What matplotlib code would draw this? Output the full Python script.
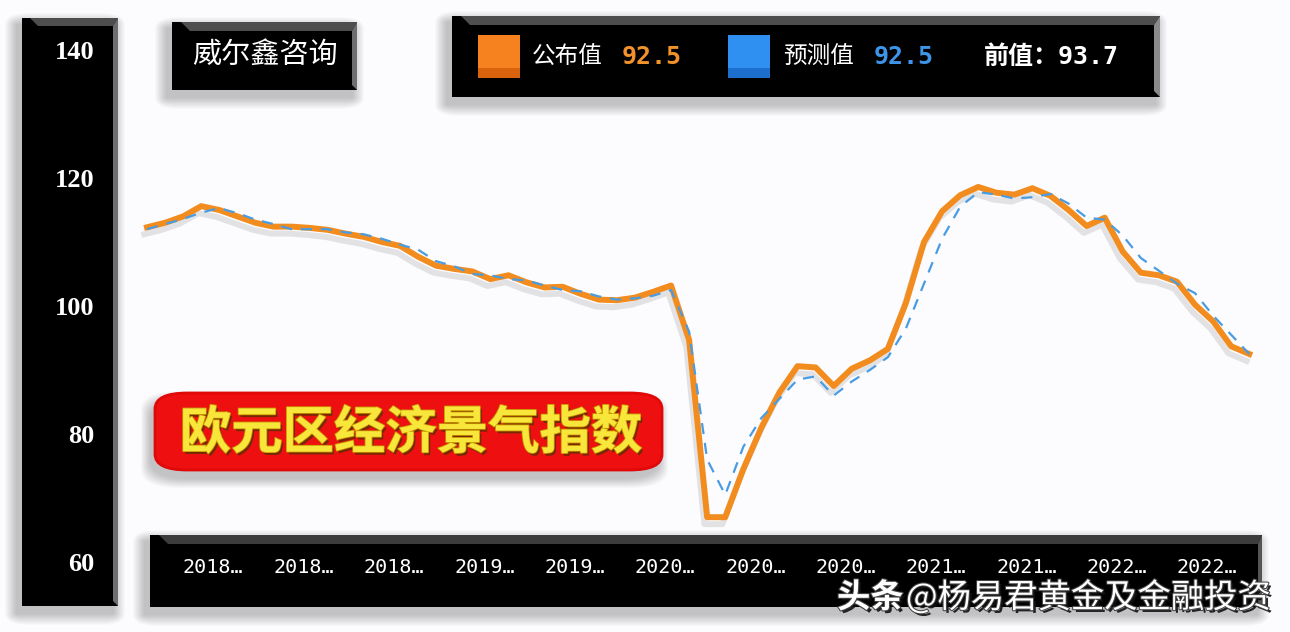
import matplotlib
matplotlib.use('Agg')
import matplotlib.pyplot as plt
import matplotlib.patheffects as pe
from matplotlib.patches import Rectangle, Polygon, FancyBboxPatch
from matplotlib.transforms import offset_copy
import pandas as pd

# ---------------- data ----------------
months = pd.date_range('2017-09-01', periods=62, freq='MS').strftime('%Y年%m月').tolist()

published = [112.3, 113.0, 114.0, 115.6, 115.0, 114.0, 113.0, 112.4, 112.4, 112.2,
             111.9, 111.3, 110.8, 110.0, 109.4, 107.7, 106.3, 105.8, 105.4, 104.2,
             104.8, 103.7, 102.9, 103.0, 101.9, 101.0, 100.9, 101.3, 102.2, 103.2,
             94.7, 67.0, 67.0, 74.5, 81.0, 86.5, 90.6, 90.4, 87.5, 90.2,
             91.5, 93.3, 100.5, 110.0, 114.8, 117.3, 118.6, 117.7, 117.4, 118.4,
             117.2, 115.0, 112.5, 113.8, 108.5, 105.2, 104.8, 103.8, 100.2, 97.6,
             93.7, 92.5]

forecast = [112.0, 112.8, 113.6, 114.6, 115.3, 114.5, 113.5, 112.8, 112.0, 112.0,
            112.0, 111.5, 111.2, 110.5, 109.6, 108.8, 107.0, 106.2, 105.0, 104.8,
            104.2, 104.0, 103.2, 102.5, 102.3, 101.5, 101.0, 101.2, 101.6, 102.5,
            96.0, 76.0, 70.5, 78.0, 82.5, 85.5, 88.5, 89.0, 86.0, 88.2,
            90.0, 92.0, 96.5, 103.5, 110.5, 115.5, 117.8, 117.4, 116.8, 117.0,
            117.5, 116.0, 113.8, 113.5, 111.0, 107.5, 105.5, 103.5, 102.0, 98.5,
            95.5, 92.5]

y_ticks = [60, 80, 100, 120, 140]
tick_step = 5
tick_start = 4
x_tick_idx = list(range(tick_start, len(months), tick_step))
x_tick_labels = [months[i][:4] + '…' for i in x_tick_idx]

title_box = '威尔鑫咨询'
banner = '欧元区经济景气指数'
pub_label, fc_label, prev_label = '公布值', '预测值', '前值：'
pub_value, fc_value, prev_value = '92.5', '92.5', '93.7'
watermark_a, watermark_b = '头条', '@杨易君黄金及金融投资'

# ---------------- figure ----------------
W, H = 1290, 632
fig = plt.figure(figsize=(W / 100, H / 100), dpi=100)
bg = '#fcfcfe'
fig.patch.set_facecolor(bg)
ax = fig.add_axes([0, 0, 1, 1])
ax.set_facecolor('none')
for s in ax.spines.values():
    s.set_visible(False)

px0, dx = 147, 18.07
ax.set_xlim(-px0 / dx, (W - px0) / dx)
ax.set_ylim(140 - (H - 50) / 6.4, 140 + 50 / 6.4)
ax.set_axisbelow(False)

CJK = ['Noto Sans CJK SC', 'DejaVu Sans']


def A(x, y):
    return (x / W, 1 - y / H)


def rect(x0, y0, x1, y1, **kw):
    r = Rectangle(A(x0, y1), (x1 - x0) / W, (y1 - y0) / H, transform=ax.transAxes, **kw)
    ax.add_patch(r)
    return r


def poly(pts, **kw):
    p = Polygon([A(x, y) for x, y in pts], closed=True, transform=ax.transAxes, **kw)
    ax.add_patch(p)
    return p


def shadow(x0, y0, x1, y1, ox=-5, oy=7, spread=12, alpha=0.02, z=0.3):
    for k in range(spread):
        r = spread - k
        ax.add_patch(FancyBboxPatch(A(x0 + ox - r, y1 + oy + r), (x1 - x0 + 2 * r) / W,
                                    (y1 - y0 + 2 * r) / H,
                                    boxstyle='round,pad=0,rounding_size=%f' % (r / H),
                                    transform=ax.transAxes, facecolor='#000000',
                                    edgecolor='none', alpha=alpha, zorder=z))


def black_box(x0, y0, x1, y1, bw=8, top='#4e4e4e', side='#6e6e6e', sw=5):
    shadow(x0, y0, x1, y1)
    rect(x0, y0, x1, y1, facecolor='#000000', edgecolor='none', zorder=0.5)
    poly([(x0 + bw, y0), (x1, y0), (x1 - sw, y0 + bw), (x0 + 2 * bw, y0 + bw)],
         facecolor=top, edgecolor='none', zorder=0.6)
    poly([(x1, y0), (x1, y1), (x1 - sw, y1 - sw), (x1 - sw, y0 + bw)],
         facecolor=side, edgecolor='none', zorder=0.6)


# boxes
black_box(22, 18, 118, 606)
black_box(172, 22, 357, 90, bw=9)
black_box(452, 16, 1160, 97, bw=9, side='#8a8a8a', sw=6)
black_box(150, 535, 1262, 607, bw=9, top='#3c3c3c', side='#555555', sw=4)

# title box text
ax.text(*A(265, 55), title_box, transform=ax.transAxes, ha='center', va='center',
        color='white', fontsize=21, family=CJK, zorder=5)

# legend
rect(478, 35, 520, 78, facecolor='#f5821f', edgecolor='none', zorder=4)
rect(478, 68, 520, 78, facecolor='#d9620c', edgecolor='none', zorder=4.1)
rect(728, 35, 770, 78, facecolor='#2f90f2', edgecolor='none', zorder=4)
rect(728, 68, 770, 78, facecolor='#1c6fcc', edgecolor='none', zorder=4.1)
ax.text(*A(532, 57), pub_label, transform=ax.transAxes, ha='left', va='center',
        color='white', fontsize=17, family=CJK, zorder=5)
ax.text(*A(622, 57), pub_value, transform=ax.transAxes, ha='left', va='center',
        color='#f2922a', fontsize=18, family='DejaVu Sans Mono', fontweight='bold', zorder=5)
ax.text(*A(783, 57), fc_label, transform=ax.transAxes, ha='left', va='center',
        color='white', fontsize=17, family=CJK, zorder=5)
ax.text(*A(874, 57), fc_value, transform=ax.transAxes, ha='left', va='center',
        color='#3d95ea', fontsize=18, family='DejaVu Sans Mono', fontweight='bold', zorder=5)
ax.text(*A(984, 57), prev_label + prev_value, transform=ax.transAxes, ha='left', va='center',
        color='white', fontsize=18, family=['DejaVu Sans Mono', 'Noto Sans CJK SC'],
        fontweight='bold', zorder=5)

# red banner
for k in range(10):
    r = 10 - k
    ax.add_patch(FancyBboxPatch(A(155 - 4 - r, 470 + 8 + r), (507 + 2 * r) / W, (77 + 2 * r) / H,
                                boxstyle='round,pad=0,rounding_size=0.03', transform=ax.transAxes,
                                facecolor='#000000', edgecolor='none', alpha=0.025, zorder=0.4))
ax.add_patch(FancyBboxPatch(A(155, 470), 507 / W, 77 / H,
                            boxstyle='round,pad=0,rounding_size=0.025', transform=ax.transAxes,
                            facecolor='#ee1010', edgecolor='#e00808', linewidth=2, zorder=3))
ax.text(*A(411, 433), banner, transform=ax.transAxes, ha='center', va='center',
        color='#f8e63a', fontsize=37, fontweight='bold', family=CJK, zorder=6,
        path_effects=[pe.withSimplePatchShadow(offset=(1.5, -2), shadow_rgbFace='#6a2a00', alpha=0.9),
                      pe.withStroke(linewidth=1.2, foreground='#c79400')])

# lines
x = list(range(len(months)))
ax.plot(x, published, color='#f28c1e', lw=4.3, solid_joinstyle='round', zorder=2,
        path_effects=[pe.SimpleLineShadow(offset=(-2, -5), shadow_color='#8a8a8a', alpha=0.22),
                      pe.Normal()])
ax.plot(x, forecast, color='#4a9ce2', lw=1.6, dashes=(5, 4), zorder=2.2)

# axes ticks
ax.set_yticks(y_ticks)
ax.set_yticklabels([str(v) for v in y_ticks])
ax.tick_params(axis='y', length=0, pad=-68, labelcolor='white', labelsize=19)
for t in ax.get_yticklabels():
    t.set_family('Liberation Serif')
    t.set_fontweight('bold')
ax.set_xticks(x_tick_idx)
ax.set_xticklabels(x_tick_labels)
ax.tick_params(axis='x', length=0, pad=-53, labelcolor='white', labelsize=14.5)
for t in ax.get_xticklabels():
    t.set_family('DejaVu Sans Mono')
    t.set_transform(offset_copy(t.get_transform(), fig=fig, x=-6, y=0, units='dots'))

# watermark
wm_fx = [pe.withSimplePatchShadow(offset=(2, -2), shadow_rgbFace='#111111', alpha=0.9),
         pe.withStroke(linewidth=1.5, foreground='#444444')]
ax.text(*A(837, 598), watermark_a, transform=ax.transAxes, ha='left', va='center',
        color='white', fontsize=24, fontweight='bold', family=CJK, zorder=7, path_effects=wm_fx)
ax.text(*A(906, 598), watermark_b, transform=ax.transAxes, ha='left', va='center',
        color='white', fontsize=24, family=CJK, zorder=7, path_effects=wm_fx)

fig.savefig('out.png', dpi=100, facecolor=bg)
